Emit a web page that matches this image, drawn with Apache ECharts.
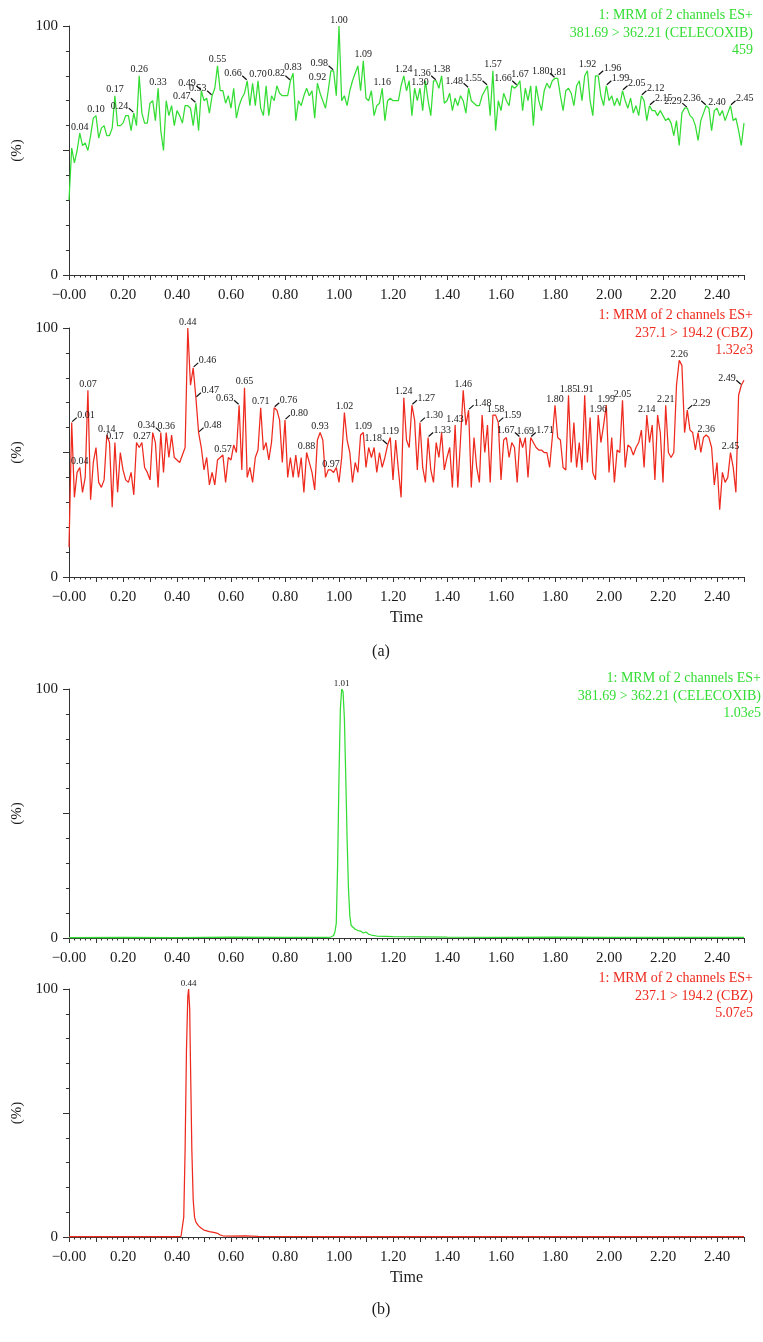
<!DOCTYPE html>
<html><head><meta charset="utf-8">
<script src="https://cdn.jsdelivr.net/npm/echarts@6/dist/echarts.min.js"></script>
<style>html,body{margin:0;padding:0;background:#fff}#c{width:763px;height:1342px}</style>
</head><body><div id="c"></div>
<script>
// ---------------- DATA ----------------
const SCAN_START = 0.00;   // min, first scan of the noise traces
const SCAN_STEP = 0.01;    // min, scan interval used for the noise traces

// (a) top: CELECOXIB channel, blank (relative intensity %)
const celecoxibBlank = [
30,51,45,50,57,52,53,50,56,63,
64,55,59,60,56,56,59,72,60,60,
61,64,64,58,65,60,80,65,61,61,
69,70,62,75,58,50,70,64,68,60,
66,64,61,68,68,67,60,69,58,74,
70,71,65,72,75,84,74,74,69,72,
67,75,63,68,71,73,78,68,77,68,
78,67,64,76,64,72,70,76,73,72,
72,72,78,81,62,70,68,72,75,72,
74,63,77,73,70,67,74,82,82,72,
100,70,72,68,74,78,81,84,74,86,
71,70,74,64,68,69,75,62,70,71,
70,70,70,76,80,74,78,64,75,70,
75,66,78,70,64,78,78,75,80,69,
70,73,66,71,68,72,70,65,75,70,
69,68,68,72,74,76,64,82,58,70,
66,73,70,68,76,75,76,78,66,75,
70,76,60,76,70,66,74,77,75,78,
79,79,72,66,74,75,73,68,76,78,
70,80,82,70,64,80,80,72,68,76,
70,72,68,71,68,74,70,67,71,65,
68,64,72,70,62,68,66,66,64,66,
64,62,63,61,56,62,52,65,67,67,
64,63,60,54,62,65,68,67,58,66,
67,64,66,62,65,68,62,63,58,52,
61];

// (a) bottom: CBZ channel, blank (relative intensity %)
const cbzBlank = [
12,62,32,42,44,34,40,75,31,46,
52,38,36,39,57,54,28,54,34,50,
43,39,38,42,33,54,52,54,44,42,
39,58,54,36,58,42,58,48,57,48,
47,46,49,52,100,77,84,72,58,52,
43,48,37,42,37,47,48,49,38,48,
47,53,50,69,43,76,40,44,38,48,
51,68,51,54,47,54,68,67,63,46,
63,40,48,40,49,40,48,34,50,46,
42,35,55,58,55,40,43,43,42,44,
38,48,66,55,50,38,46,42,57,58,
44,52,48,52,42,50,44,48,53,56,
39,55,43,32,72,55,52,69,63,43,
62,44,38,56,43,38,54,48,58,43,
48,52,36,61,36,55,75,61,67,36,
56,44,38,65,50,61,38,65,65,62,
39,55,56,48,54,52,38,56,52,56,
40,56,54,52,51,51,50,50,44,56,
69,56,55,44,43,73,46,62,44,54,
43,73,46,64,42,39,65,54,61,69,
42,56,38,51,50,71,44,53,52,49,
52,54,59,44,65,54,61,39,65,58,
38,69,50,48,50,77,87,85,58,67,
59,58,51,58,50,56,57,56,52,37,
46,27,42,38,40,50,44,34,73,77,
79];

// (b) top: CELECOXIB standard
const celecoxibStdTime = [0.00,0.20,0.40,0.60,0.80,0.95,0.97,0.98,0.985,0.99,0.995,1.000,1.005,1.010,1.015,1.020,1.025,1.030,1.035,1.040,1.045,1.050,1.060,1.070,1.080,1.090,1.100,1.110,1.120,1.140,1.200,1.400,1.600,1.800,2.000,2.200,2.400,2.500];
const celecoxibStdVal  = [0.2,0.3,0.2,0.4,0.3,0.3,0.4,1.0,2.5,6,30,65,92,100,99,88,65,40,20,9,5,4.2,3.5,3.0,2.8,2.0,2.4,1.5,1.2,0.8,0.6,0.4,0.3,0.4,0.3,0.3,0.3,0.3];

// (b) bottom: CBZ standard
const cbzStdTime = [0.00,0.10,0.20,0.30,0.40,0.415,0.420,0.425,0.430,0.435,0.440,0.443,0.447,0.450,0.455,0.460,0.465,0.470,0.480,0.490,0.500,0.520,0.540,0.550,0.560,0.570,0.600,0.650,0.700,1.000,1.500,2.000,2.500];
const cbzStdVal  = [0.2,0.2,0.2,0.2,0.2,0.3,1.0,8,35,75,97,100,92,70,35,15,8,6,4.5,3.5,2.8,2.2,1.8,1.5,0.8,0.5,0.4,0.5,0.3,0.2,0.2,0.2,0.2];

// peak annotations (retention times)
const celecoxibBlankPeaks = ['0.04','0.10','0.17','0.24','0.26','0.33','0.47','0.49','0.53','0.55','0.66','0.70','0.82','0.83','0.92','0.98','1.00','1.09','1.16','1.24','1.30','1.36','1.38','1.48','1.55','1.57','1.66','1.67','1.80','1.81','1.92','1.96','1.99','2.05','2.12','2.15','2.29','2.36','2.40','2.45'];
const cbzBlankPeaks = ['0.01','0.04','0.07','0.14','0.17','0.27','0.34','0.36','0.44','0.46','0.47','0.48','0.57','0.63','0.65','0.71','0.76','0.80','0.88','0.93','0.97','1.02','1.09','1.18','1.19','1.24','1.27','1.30','1.33','1.43','1.46','1.48','1.58','1.59','1.67','1.69','1.71','1.80','1.85','1.91','1.96','1.99','2.05','2.14','2.21','2.26','2.29','2.36','2.45','2.49'];
const celecoxibStdPeaks = ['1.01'];
const cbzStdPeaks = ['0.44'];

const xTickLabels = ['\u22120.00','0.20','0.40','0.60','0.80','1.00','1.20','1.40','1.60','1.80','2.00','2.20','2.40'];
const yTickLabels = {0:'0', 100:'100'};

const headerCelecoxib = ['1: MRM of 2 channels ES+','381.69 > 362.21 (CELECOXIB)'];
const headerCbz = ['1: MRM of 2 channels ES+','237.1 > 194.2 (CBZ)'];
const intensities = [['459',''],['1.32','3'],['1.03','5'],['5.07','5']];

// ---------------- STYLE ----------------
const GREEN = '#33dd33', RED = '#ee2a1e', AX = '#333', TXT = '#1a1a1a';
const SERIF = '"Liberation Serif","DejaVu Serif",serif';
// leader-line direction for labels that are offset from their peak
const leaders1 = {'0.24':'L','0.47':'L','0.49':'L','0.53':'L','0.66':'L','0.82':'L','0.98':'L','1.36':'L','1.48':'L','1.55':'L','1.66':'L','1.80':'L','1.96':'R','1.99':'R','2.05':'R','2.12':'R','2.15':'R','2.29':'L','2.36':'L','2.45':'R'};
const leaders2 = {'0.01':'R','0.34':'L','0.46':'R','0.47':'R','0.48':'R','0.63':'L','0.76':'R','0.80':'R','1.18':'L','1.27':'R','1.30':'R','1.33':'R','1.48':'R','1.59':'R','1.67':'L','1.71':'R','2.29':'R','2.49':'L'};

const grids = [
  {left:69, right:19, top:26, height:249},
  {left:69, right:19, top:328, height:249},
  {left:69, right:19, top:689, height:249},
  {left:69, right:19, top:989, height:248}
];

function noiseData(arr){ return arr.map((v,i)=>[+(SCAN_START+i*SCAN_STEP).toFixed(2), v]); }
function pairData(ts, vs){ return ts.map((t,i)=>[t, vs[i]]); }

function noisePeakPts(list, arr){
  return list.map(s=>({s, t:+s, v:arr[Math.round((+s - SCAN_START)/SCAN_STEP)]}));
}
function stdPeakPts(list, ts, vs){
  return list.map(s=>{ let m=0, mt=+s; vs.forEach((v,i)=>{ if(v>m){m=v; mt=ts[i];} }); return {s, t:mt, v:m}; });
}

function labelSeries(idx, pts, dirs, fs){
  const font = fs+'px '+SERIF;
  return {
    type:'custom', xAxisIndex:idx, yAxisIndex:idx, silent:true, z:5, clip:false,
    data: pts.map(p=>[p.t, p.v]),
    renderItem(params, api){
      const p = api.coord([api.value(0), api.value(1)]);
      const lab = pts[params.dataIndex];
      const d = dirs[lab.s] || 'U';
      if (d === 'U') {
        return {type:'text', x:p[0], y:p[1]-1, style:{text:lab.s, font, fill:TXT, align:'center', verticalAlign:'bottom'}};
      }
      const sx = d === 'L' ? -1 : 1;
      return {type:'group', children:[
        {type:'line', shape:{x1:p[0]+sx*0.5, y1:p[1]-1, x2:p[0]+sx*5, y2:p[1]-5}, style:{stroke:'#111', lineWidth:1.2}},
        {type:'text', x:p[0]+sx*5.5, y:p[1]-2, style:{text:lab.s, font, fill:TXT, align: d==='L'?'right':'left', verticalAlign:'bottom'}}
      ]};
    }
  };
}

function xAxis(gi, withName){
  return {
    type:'value', gridIndex:gi, min:0, max:2.5, interval:0.1,
    axisLine:{show:true, onZero:false, lineStyle:{color:AX, width:1}},
    axisTick:{show:true, length:5, lineStyle:{color:AX, width:1}},
    minorTick:{show:true, splitNumber:5, length:2.5, lineStyle:{color:AX, width:1}},
    splitLine:{show:false}, minorSplitLine:{show:false},
    axisLabel:{show:true, margin:13, color:TXT, fontSize:15, fontFamily:SERIF,
      formatter: v => { const k = Math.round(v*10); return (k%2===0 && v < 2.45) ? xTickLabels[k/2] : ''; }},
    name: withName ? 'Time' : '', nameLocation:'middle', nameGap:33,
    nameTextStyle:{color:TXT, fontSize:16, fontFamily:SERIF}
  };
}
function yAxis(gi){
  return {
    type:'value', gridIndex:gi, min:0, max:100, interval:50,
    axisLine:{show:true, lineStyle:{color:AX, width:1}},
    axisTick:{show:true, length:6, lineStyle:{color:AX, width:1}},
    minorTick:{show:true, splitNumber:5, length:3, lineStyle:{color:AX, width:1}},
    splitLine:{show:false}, minorSplitLine:{show:false},
    axisLabel:{margin:11, color:TXT, fontSize:15, fontFamily:SERIF, formatter: v => yTickLabels[v] || ''},
    name:'(%)', nameLocation:'middle', nameRotate:90, nameGap:36,
    nameTextStyle:{color:TXT, fontSize:15, fontFamily:SERIF}
  };
}
function lineSeries(idx, data, color){
  return {type:'line', xAxisIndex:idx, yAxisIndex:idx, data, showSymbol:false, symbol:'none',
    lineStyle:{color, width:1.25}, itemStyle:{color}, z:3, clip:false, animation:false};
}
function header(lines, inten, color, xRight, top){
  const txt = lines.join('\n') + '\n' + inten[0] + (inten[1] ? '{i|e}' + inten[1] : '');
  return {type:'text', x:xRight, y:top, z:10, style:{
    text:txt, fill:color, fontSize:14, fontFamily:SERIF, lineHeight:17.5, align:'right', verticalAlign:'top',
    rich:{i:{fontStyle:'italic', fontSize:14, fontFamily:SERIF, fill:color}}
  }};
}

const chart = echarts.init(document.getElementById('c'), null, {renderer:'canvas'});
chart.setOption({
  animation:false,
  backgroundColor:'#fff',
  grid: grids,
  xAxis:[xAxis(0,false), xAxis(1,true), xAxis(2,false), xAxis(3,true)],
  yAxis:[yAxis(0), yAxis(1), yAxis(2), yAxis(3)],
  series:[
    lineSeries(0, noiseData(celecoxibBlank), GREEN),
    lineSeries(1, noiseData(cbzBlank), RED),
    lineSeries(2, pairData(celecoxibStdTime, celecoxibStdVal), GREEN),
    lineSeries(3, pairData(cbzStdTime, cbzStdVal), RED),
    labelSeries(0, noisePeakPts(celecoxibBlankPeaks, celecoxibBlank), leaders1, 10),
    labelSeries(1, noisePeakPts(cbzBlankPeaks, cbzBlank), leaders2, 10),
    labelSeries(2, stdPeakPts(celecoxibStdPeaks, celecoxibStdTime, celecoxibStdVal), {}, 9),
    labelSeries(3, stdPeakPts(cbzStdPeaks, cbzStdTime, cbzStdVal), {}, 9)
  ],
  graphic:[
    header(headerCelecoxib, intensities[0], GREEN, 753, 7),
    header(headerCbz, intensities[1], RED, 753, 307),
    header(headerCelecoxib, intensities[2], GREEN, 761, 670),
    header(headerCbz, intensities[3], RED, 753, 970),
    {type:'text', x:381, y:652, style:{text:'(a)', fill:TXT, fontSize:16, fontFamily:SERIF, align:'center', verticalAlign:'middle'}},
    {type:'text', x:381, y:1310, style:{text:'(b)', fill:TXT, fontSize:16, fontFamily:SERIF, align:'center', verticalAlign:'middle'}}
  ]
});
</script>
</body></html>
